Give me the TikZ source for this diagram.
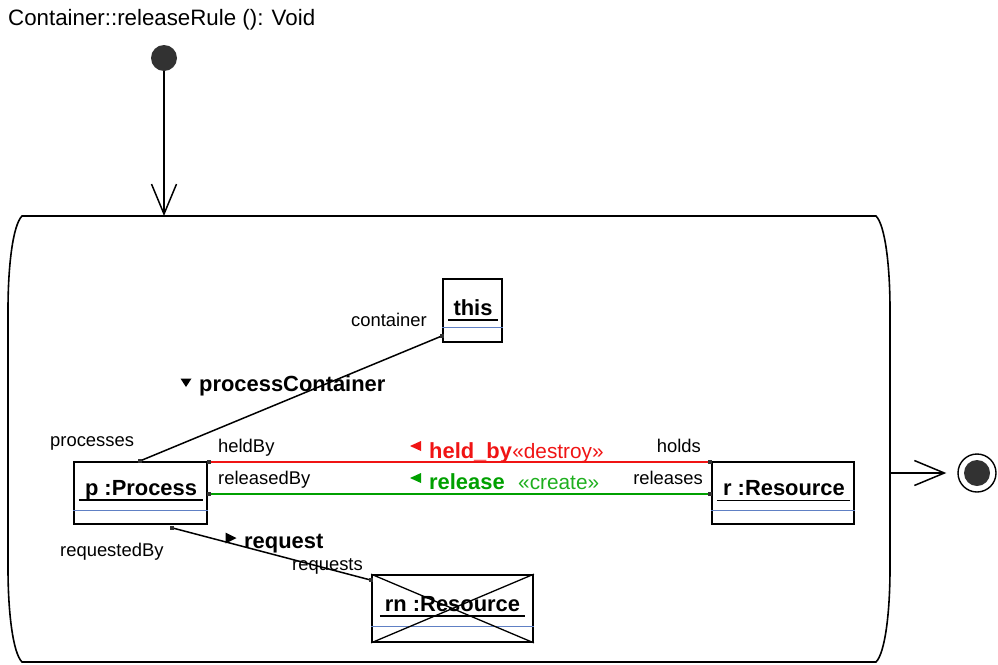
\documentclass[tikz,border=0pt]{standalone}
\usepackage{fontspec}
\setmainfont{Liberation Sans}
\usetikzlibrary{calc,arrows.meta}
\definecolor{dred}{RGB}{240,20,20}
\definecolor{dgreen}{RGB}{0,160,0}
\definecolor{sgreen}{RGB}{30,175,30}
\definecolor{sepblue}{RGB}{96,128,196}
\definecolor{dotgray}{RGB}{50,50,50}
\newcommand\regfont{\fontsize{18.4}{21}\selectfont}
\newcommand\boldfont{\fontsize{21.9}{25}\selectfont\bfseries}
\newcommand\sterfont{\fontsize{20.8}{24}\selectfont}
\newcommand\titlefont{\fontsize{22.3}{26}\selectfont}
\begin{document}
\begin{tikzpicture}[x=1pt,y=-1pt,
  obj/.style={draw, line width=1.7pt, inner sep=0pt},
  objname/.style={font=\boldfont, inner sep=0pt, anchor=base},
  uline/.style={line width=1.8pt},
  sepline/.style={sepblue, line width=0.9pt},
  lbl/.style={font=\regfont, inner sep=0pt},
  assoc/.style={font=\boldfont, inner sep=0pt, anchor=base west},
  link/.style={line width=1.5pt},
  endsq/.style={fill=dotgray, minimum size=4pt, inner sep=0pt, rectangle},
  barb/.style={-{Straight Barb[length=30pt,width=25pt]}, line width=1.5pt},
  tri/.style={fill=black}
]
\useasboundingbox (0,0) rectangle (998,664);

% operation header
\node[font=\titlefont, inner sep=0pt, anchor=base west] (title) at (8,25) {Container::releaseRule (): Void};

% initial state
\node[circle, fill=dotgray, minimum size=26pt, inner sep=0pt] (init) at (164,58) {};
\coordinate (entry) at (164,216);
\draw[barb] (init) -- (entry);

% activity frame with bulging sides
\draw[line width=1.6pt]
  (22,216) -- (876,216)
  .. controls (885,225) and (890,265) .. (890,310)
  -- (890,568)
  .. controls (890,613) and (885,653) .. (876,662)
  -- (22,662)
  .. controls (13,653) and (8,613) .. (8,568)
  -- (8,310)
  .. controls (8,265) and (13,225) .. cycle;

% final state
\node[circle, draw, line width=1.4pt, minimum size=38pt, inner sep=0pt] (final) at (977,473) {};
\node[circle, fill=dotgray, minimum size=26pt, inner sep=0pt] (finalcore) at (final.center) {};
\coordinate (exit) at (890,473);
\draw[barb, shorten >=11pt] (exit) -- (final);

% objects
\node[obj, minimum width=59pt, minimum height=63pt] (this) at (472.5,310.5) {};
\node[obj, minimum width=133pt, minimum height=62pt] (p) at (140.5,493) {};
\node[obj, minimum width=142pt, minimum height=62pt] (r) at (783,493) {};
\node[obj, minimum width=161pt, minimum height=67pt] (rn) at (452.5,608.5) {};

\node[objname] (thisname) at (473,315) {this};
\node[objname] (pname) at (141,495) {p :Process};
\node[objname] (rname) at (784,495.5) {r :Resource};
\node[objname] (rnname) at (452.5,611) {rn :Resource};

\draw[uline] ($(thisname.base west)+(-5,5)$) -- ($(thisname.base east)+(5,5)$);
\draw[uline] ($(pname.base west)+(-6,5)$) -- ($(pname.base east)+(6,5)$);
\draw[uline] ($(rname.base west)+(-6,5)$) -- ($(rname.base east)+(5,5)$);
\draw[uline] ($(rnname.base west)+(-5,5)$) -- ($(rnname.base east)+(5,5)$);

\draw[sepline] ($(this.south west)+(0,-15)$) -- ($(this.south east)+(0,-15)$);
\draw[sepline] ($(p.south west)+(0,-14)$) -- ($(p.south east)+(0,-14)$);
\draw[sepline] ($(r.south west)+(0,-14)$) -- ($(r.south east)+(0,-14)$);
\draw[sepline] ($(rn.south west)+(0,-16)$) -- ($(rn.south east)+(0,-16)$);

% deleted object
\draw[line width=1.3pt] (rn.north west) -- (rn.south east);
\draw[line width=1.3pt] (rn.south west) -- (rn.north east);

% link ends
\coordinate (pc1) at ($(p.north)+(-1,0)$);
\coordinate (pc2) at ($(this.south west)+(0,-7)$);
\coordinate (hb1) at ($(p.north east)+(1,1)$);
\coordinate (hb2) at ($(r.north west)+(-1,1)$);
\coordinate (rl1) at ($(p.east)+(1,1)$);
\coordinate (rl2) at ($(r.west)+(-1,1)$);
\coordinate (rq1) at ($(p.south west)+(99,3)$);
\coordinate (rq2) at ($(rn.north west)+(0,6)$);

% links
\draw[link] (pc1) -- (pc2);
\draw[link, dred, line width=1.8pt] (hb1) -- (hb2);
\draw[link, dgreen, line width=1.8pt] (rl1) -- (rl2);
\draw[link] (rq1) -- (rq2);

\foreach \c in {pc1,pc2,hb1,hb2,rl1,rl2,rq1,rq2}
  \node[endsq] at (\c) {};

% role names
\node[lbl, anchor=base east] (lcontainer) at (427,326) {container};
\node[lbl, anchor=base west] (lprocesses) at (50,446) {processes};
\node[lbl, anchor=base west] (lheldby) at (218,452) {heldBy};
\node[lbl, anchor=base west] (lreleasedby) at (218,484) {releasedBy};
\node[lbl, anchor=base east] (lholds) at (701,452) {holds};
\node[lbl, anchor=base east] (lreleases) at (703,484) {releases};
\node[lbl, anchor=base west] (lrequestedby) at (60,556) {requestedBy};
\node[lbl, anchor=base west] (lrequests) at (292,570) {requests};

% association names
\fill[tri] (180.5,378.5) -- (191.5,378.5) -- (186,387) -- cycle;
\node[assoc] (apc) at (199,391) {processContainer};

\fill[tri, dred] (410,446) -- (421,441) -- (421,451) -- cycle;
\node[assoc, text=dred] (ahb) at (429,458) {held\_by};
\node[font=\sterfont, text=dred, inner sep=0pt, anchor=base west] (shb) at (ahb.base east) {«destroy»};

\fill[tri, dgreen] (410,478) -- (421,473) -- (421,483) -- cycle;
\node[assoc, text=dgreen] (arl) at (429,489) {release};
\node[font=\sterfont, text=sgreen, inner sep=0pt, anchor=base west] (srl) at (518,489) {«create»};

\fill[tri] (225.5,532.5) -- (236.5,538) -- (225.5,543.5) -- cycle;
\node[assoc] (arq) at (244,548) {request};

\end{tikzpicture}
\end{document}
